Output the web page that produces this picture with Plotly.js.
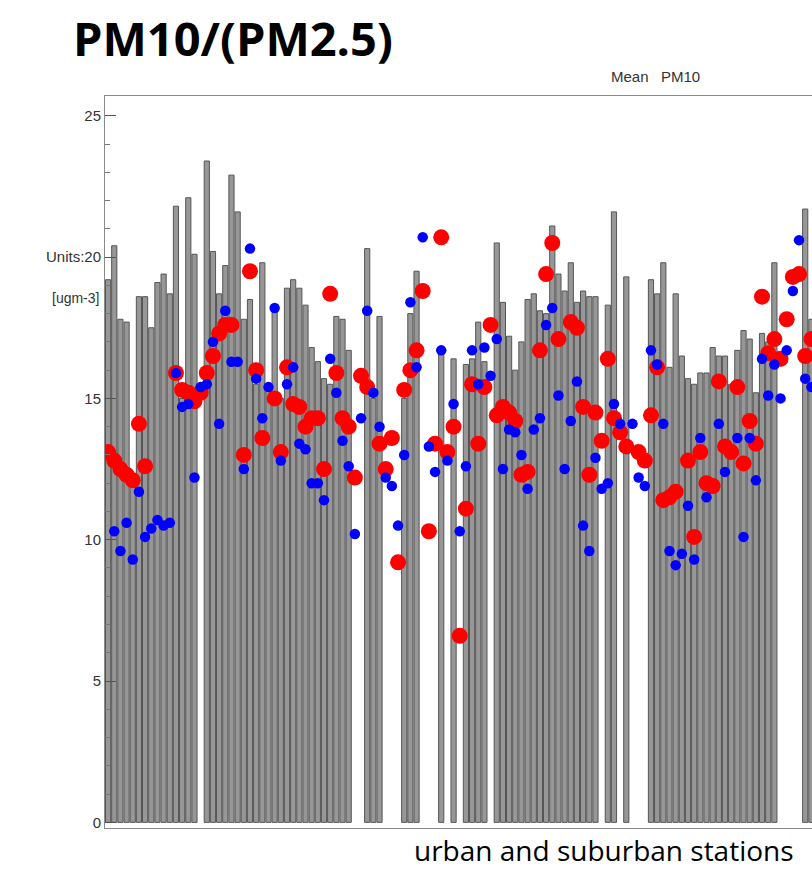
<!DOCTYPE html>
<html>
<head>
<meta charset="utf-8">
<script src="https://cdn.plot.ly/plotly-3.0.1.min.js"></script>
<style>html,body{margin:0;padding:0;background:#fff;}#chart{width:812px;height:873px;}</style>
</head>
<body>
<div id="chart"></div>
<script>
// Station numbers (urban and suburban stations, left to right)
const stations = [];
for (let i = 1; i <= 115; i++) stations.push(i);

// Mean PM10 per station (grey bars); null = no bar
const pm10Mean = [
  19.2,20.4,17.8,17.7,12.0,18.6,18.6,17.5,19.1,19.4,
  18.7,21.8,15.0,22.1,20.1,null,23.4,20.2,18.7,19.7,
  22.9,21.6,17.8,18.5,15.5,19.8,15.5,18.2,15.0,18.9,
  19.2,18.9,18.3,16.8,16.3,15.7,15.5,17.9,17.8,16.7,
  null,null,20.3,15.0,17.9,null,null,null,15.0,18.0,
  19.5,null,null,null,16.8,null,16.4,null,16.2,16.4,
  17.7,16.3,null,20.5,18.4,17.2,16.0,17.0,18.5,18.7,
  18.1,18.0,21.1,19.4,18.8,19.8,18.4,18.8,18.6,18.6,
  null,18.3,21.6,null,19.3,null,null,null,19.2,18.7,
  19.8,16.1,18.7,16.5,15.7,15.5,15.9,15.9,16.8,16.5,
  16.5,15.5,16.7,17.4,17.1,15.2,17.3,17.0,19.8,null,
  null,null,null,21.7,17.8
];

// Red dots
const redValues = [
  13.1,12.8,12.5,12.3,12.1,14.1,12.6,null,null,null,
  null,15.9,15.3,15.2,14.9,15.2,15.9,16.5,17.3,17.6,
  17.6,null,13.0,19.5,16.0,13.6,null,15.0,13.1,16.1,
  14.8,14.7,14.0,14.3,14.3,12.5,18.7,15.9,14.3,14.0,
  12.2,15.8,15.4,null,13.4,12.5,13.6,9.2,15.3,16.0,
  16.7,18.8,10.3,13.4,20.7,13.1,14.0,6.6,11.1,15.5,
  13.4,15.4,17.6,14.4,14.7,14.5,14.2,12.3,12.4,null,
  16.7,19.4,20.5,17.1,null,17.7,17.5,14.7,12.3,14.5,
  13.5,16.4,14.3,13.8,13.3,null,13.1,12.8,14.4,16.1,
  11.4,11.5,11.7,null,12.8,10.1,13.1,12.0,11.9,15.6,
  13.3,13.1,15.4,12.7,14.2,13.4,18.6,16.6,17.1,16.4,
  17.8,19.3,19.4,16.5,17.1
];

// Blue dots
const blueValues = [
  null,10.3,9.6,10.6,9.3,11.7,10.1,10.4,10.7,10.5,
  10.6,15.9,14.7,14.8,12.2,15.4,15.5,17.0,14.1,18.1,
  16.3,16.3,12.5,20.3,15.7,14.3,15.4,18.2,12.8,15.5,
  16.1,13.4,13.2,12.0,12.0,11.4,16.4,15.2,13.5,12.6,
  10.2,14.3,18.1,15.2,14.0,12.2,11.9,10.5,13.0,18.4,
  16.1,20.7,13.3,12.4,16.7,12.8,14.8,10.3,12.6,16.7,
  15.5,16.8,15.8,17.1,12.5,13.9,13.8,13.0,11.8,13.9,
  14.3,17.6,18.2,15.1,12.5,14.2,15.6,10.5,9.6,12.9,
  11.8,12.0,14.8,14.1,null,14.1,12.2,11.9,16.7,16.2,
  14.1,9.6,9.1,9.5,11.2,9.3,13.6,11.5,null,14.1,
  12.4,null,13.6,10.1,13.6,12.1,16.4,15.1,16.2,15.0,
  16.7,18.8,20.6,15.7,15.4
];

const yTickValues = [0, 5, 10, 15, 20, 25];
const yTickLabels = ['0', '5', '10', '15', 'Units:20', '25'];

const traces = [
  {
    type: 'bar', x: stations, y: pm10Mean, width: 0.84,
    marker: {color: '#979797', line: {color: '#555555', width: 1}},
    hoverinfo: 'skip', showlegend: false
  },
  {
    type: 'scatter', mode: 'markers', x: stations, y: redValues,
    marker: {color: '#ff0000', size: 16, line: {width: 0}},
    showlegend: false
  },
  {
    type: 'scatter', mode: 'markers', x: stations, y: blueValues,
    marker: {color: '#0000ff', size: 10.5, line: {width: 0}},
    showlegend: false
  }
];

const layout = {
  width: 812, height: 873,
  margin: {l: 105, r: 0, t: 96, b: 45},
  paper_bgcolor: '#ffffff', plot_bgcolor: '#ffffff',
  bargap: 0,
  font: {family: 'Liberation Sans, Arial, sans-serif', color: '#333333'},
  title: {
    text: '<b>PM10/(PM2.5)</b>',
    font: {family: 'Open Sans, sans-serif', size: 47, color: '#000000'},
    x: 73/812, xanchor: 'left', xref: 'container',
    y: 1 - 40/873, yanchor: 'middle', yref: 'container'
  },
  xaxis: {
    range: [0.5, 115.1], showticklabels: false, ticks: '',
    showgrid: false, zeroline: false,
    showline: true, linecolor: '#8a8a8a', linewidth: 1, mirror: true
  },
  yaxis: {
    range: [-0.2, 25.7], tickvals: yTickValues, ticktext: yTickLabels,
    ticks: 'inside', ticklen: 11, tickcolor: '#555555', tickwidth: 1,
    minor: {dtick: 1, ticks: 'inside', ticklen: 5, tickcolor: '#777777'},
    tickfont: {size: 15, color: '#333333', family: 'Liberation Sans, Arial, sans-serif'},
    showgrid: false, zeroline: false,
    showline: true, linecolor: '#8a8a8a', linewidth: 1
  },
  annotations: [
    {
      text: 'Mean   PM10', xref: 'paper', yref: 'paper',
      x: (655 - 105) / 707, y: 1.026, xanchor: 'center', yanchor: 'middle',
      showarrow: false, font: {size: 15, color: '#333333'}
    },
    {
      text: '[ugm-3]', xref: 'paper', yref: 'paper',
      x: -0.006, y: (828 - 298) / 732, xanchor: 'right', yanchor: 'middle',
      showarrow: false, font: {size: 14, color: '#333333'}
    },
    {
      text: 'urban and suburban stations', xref: 'paper', yref: 'paper',
      x: (604 - 105) / 707, y: -0.057, xanchor: 'center', yanchor: 'bottom',
      borderpad: 0,
      showarrow: false, font: {family: 'Open Sans, sans-serif', size: 28, color: '#000000'}
    }
  ]
};

Plotly.newPlot('chart', traces, layout, {displayModeBar: false, staticPlot: true});
</script>
</body>
</html>
